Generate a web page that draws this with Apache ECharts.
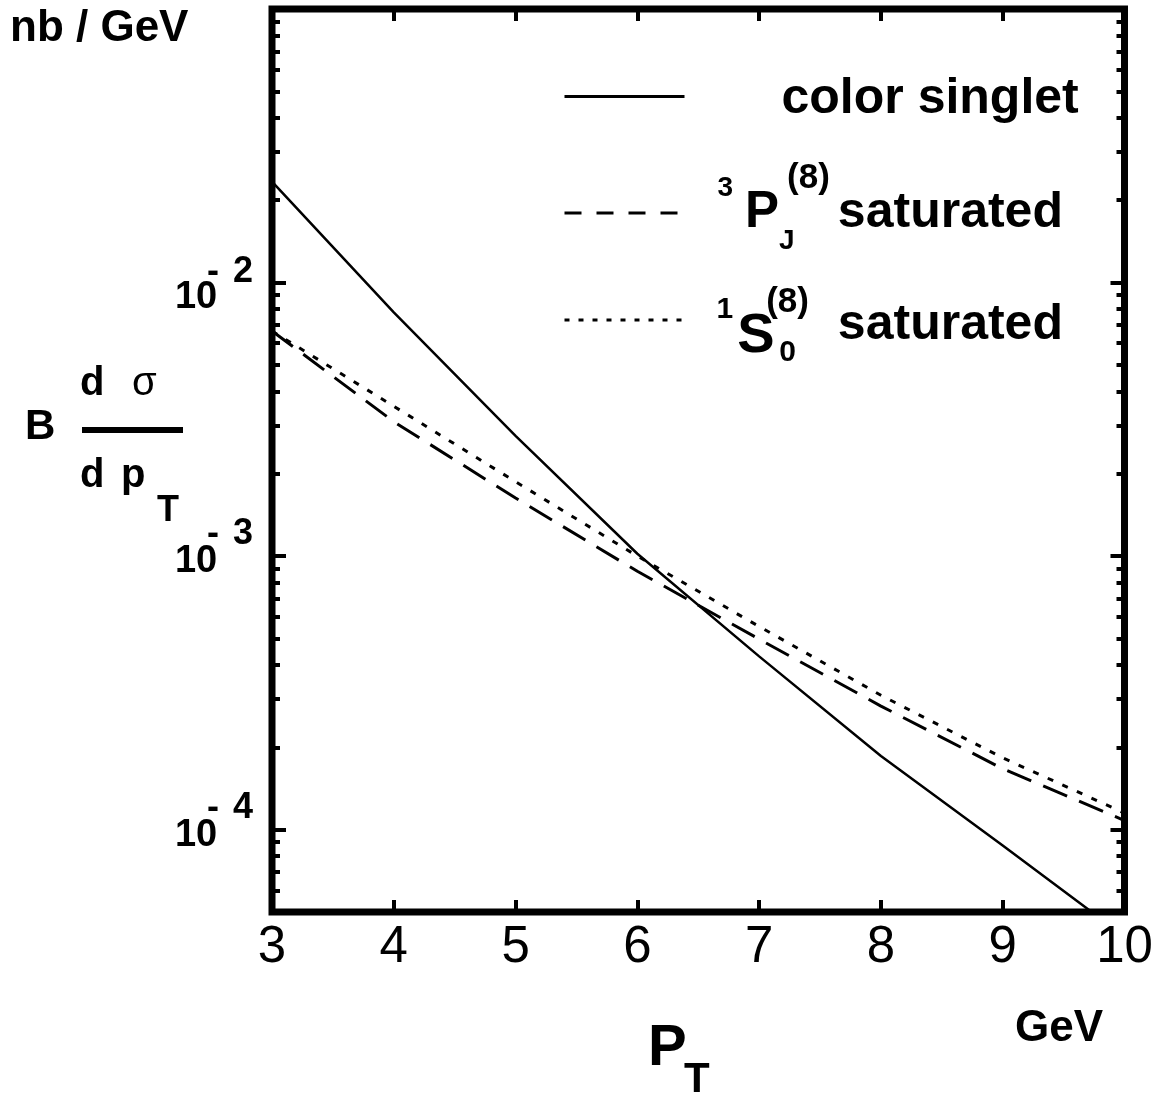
<!DOCTYPE html>
<html>
<head>
<meta charset="utf-8">
<script src="https://cdn.jsdelivr.net/npm/echarts@6/dist/echarts.min.js"></script>
<style>
  html, body { margin: 0; padding: 0; background: #fff; }
  #chart { width: 1161px; height: 1099px; }
</style>
</head>
<body>
<div id="chart"></div>
<script>
// p_T (GeV)
const ptValues = [3, 4, 5, 6, 7, 8, 9, 10];
// B dsigma/dpT (nb/GeV)
const colorSinglet = [0.0234, 0.00778, 0.00275, 0.00102, 0.00043, 0.000186, 0.0000875, 0.0000407];
const p3Saturated = [0.00665, 0.0031, 0.00163, 0.00088, 0.000497, 0.000283, 0.000167, 0.000108];
const s1Saturated = [0.00665, 0.00353, 0.00187, 0.00100, 0.000553, 0.00031, 0.000183, 0.000115];

// axis ticks
const xTicks = [3, 4, 5, 6, 7, 8, 9, 10];
const yLabelValues = [1e-4, 1e-3, 1e-2];
const yMajorTicks = [1e-4, 1e-3, 1e-2, 1e-1];
const yMinorTicks = [
  6e-5, 7e-5, 8e-5, 9e-5,
  2e-4, 3e-4, 4e-4, 5e-4, 6e-4, 7e-4, 8e-4, 9e-4,
  2e-3, 3e-3, 4e-3, 5e-3, 6e-3, 7e-3, 8e-3, 9e-3,
  2e-2, 3e-2, 4e-2, 5e-2, 6e-2, 7e-2, 8e-2, 9e-2
];

const FONT = "'Liberation Sans', Arial, sans-serif";
const chart = echarts.init(document.getElementById('chart'));

const pairs = ys => ptValues.map((x, i) => [x, ys[i]]);

// bold black rich-text token
const tok = (size, extra) => Object.assign({ fontSize: size, fontWeight: 'bold', color: '#000', align: 'left' }, extra);

// y label like 10^-3 : superscript minus sits over the 0
const yLabelRich = {
  b: tok(38, { width: 32, padding: [11, 0, 0, 0] }),
  m: tok(36, { padding: [0, 14, 44, 0] }),
  n: tok(36, { padding: [0, 0, 44, 0] }),
  b2: tok(38, { width: 32, padding: [29, 0, 0, 0] }),
  m2: tok(36, { padding: [0, 14, 20, 0] }),
  n2: tok(36, { padding: [0, 0, 20, 0] })
};

const xAxisBase = {
  type: 'value', min: 3, max: 10, interval: 1,
  axisLine: { show: false },
  splitLine: { show: false },
  axisTick: { inside: true, length: 12, lineStyle: { color: '#000', width: 4 } }
};

const yAxisBase = {
  type: 'log', logBase: 10, min: 5e-5, max: 0.1,
  axisLine: { show: false },
  splitLine: { show: false },
  minorTick: { show: false }
};

const legendBase = {
  left: 563, padding: 0, selectedMode: false,
  itemWidth: 120, itemHeight: 14,
  itemStyle: { opacity: 0 }
};

const option = {
  animation: false,
  backgroundColor: '#fff',
  textStyle: { fontFamily: FONT, color: '#000' },
  grid: {
    left: 272, top: 9, right: 36.5, bottom: 187,
    show: true, borderColor: '#000', borderWidth: 7, backgroundColor: 'transparent'
  },
  xAxis: [
    Object.assign({}, xAxisBase, {
      position: 'bottom',
      axisLabel: { margin: 10, fontSize: 51, color: '#000', fontFamily: FONT,
        customValues: xTicks }
    }),
    Object.assign({}, xAxisBase, {
      position: 'top',
      axisLabel: { show: false }
    })
  ],
  yAxis: [
    Object.assign({}, yAxisBase, {
      position: 'left',
      axisTick: { inside: true, length: 14, lineStyle: { color: '#000', width: 4 },
        customValues: yMajorTicks },
      axisLabel: {
        margin: 19, color: '#000', fontFamily: FONT, lineHeight: 60,
        customValues: yLabelValues,
        formatter: v => {
          const e = Math.round(Math.log10(v));
          const s = e === -2 ? '2' : '';
          return '{b' + s + '|10}{m' + s + '|-}{n' + s + '|' + Math.abs(e) + '}';
        },
        rich: yLabelRich
      }
    }),
    Object.assign({}, yAxisBase, {
      position: 'left',
      axisTick: { inside: true, length: 8, lineStyle: { color: '#000', width: 4 },
        customValues: yMinorTicks },
      axisLabel: { show: false }
    }),
    Object.assign({}, yAxisBase, {
      position: 'right',
      axisTick: { inside: true, length: 14, lineStyle: { color: '#000', width: 4 },
        customValues: yMajorTicks },
      axisLabel: { show: false }
    }),
    Object.assign({}, yAxisBase, {
      position: 'right',
      axisTick: { inside: true, length: 8, lineStyle: { color: '#000', width: 4 },
        customValues: yMinorTicks },
      axisLabel: { show: false }
    })
  ],
  legend: [
    Object.assign({}, legendBase, {
      data: ['color singlet'], top: 69,
      lineStyle: { width: 3 },
      formatter: () => '{t|color singlet}',
      textStyle: { rich: {
        t: tok(50, { lineHeight: 60, padding: [5, 0, 0, 92] })
      } }
    }),
    Object.assign({}, legendBase, {
      data: ['3PJ saturated'], top: 161,
      lineStyle: { type: [17, 15], width: 3 },
      formatter: () => '{a|3}{p|P}{j|J}{e|(8)}{t|saturated}',
      textStyle: { rich: {
        a: tok(28, { lineHeight: 60, padding: [0, 0, 50, 28] }),
        p: tok(51, { lineHeight: 60, padding: [0, 0, 0, 12] }),
        j: tok(28, { lineHeight: 60, width: 0, padding: [56, 0, 0, 0] }),
        e: tok(35, { lineHeight: 60, padding: [0, 0, 69, 8] }),
        t: tok(50, { lineHeight: 60, padding: [0, 0, 0, 8] })
      } }
    }),
    Object.assign({}, legendBase, {
      data: ['1S0 saturated'], top: 272,
      lineStyle: { type: [5, 9], width: 3 },
      formatter: () => '{a|1}{s|S}{e|(8)}{z|0}{t|saturated}',
      textStyle: { rich: {
        a: tok(30, { lineHeight: 60, padding: [0, 0, 20, 27] }),
        s: tok(56, { lineHeight: 60, width: 29, padding: [34, 0, 0, 4] }),
        e: tok(35, { lineHeight: 60, width: 0, padding: [0, 0, 36, 0] }),
        z: tok(30, { lineHeight: 60, padding: [66, 0, 0, 13] }),
        t: tok(50, { lineHeight: 60, padding: [10, 0, 0, 42] })
      } }
    })
  ],
  series: [
    {
      name: 'color singlet', type: 'line', data: pairs(colorSinglet),
      showSymbol: false, symbol: 'none', color: '#000',
      lineStyle: { color: '#000', width: 2.5, type: 'solid' }
    },
    {
      name: '3PJ saturated', type: 'line', data: pairs(p3Saturated),
      showSymbol: false, symbol: 'none', color: '#000',
      lineStyle: { color: '#000', width: 3, type: [26, 13] }
    },
    {
      name: '1S0 saturated', type: 'line', data: pairs(s1Saturated),
      showSymbol: false, symbol: 'none', color: '#000',
      lineStyle: { color: '#000', width: 3, type: [6, 10] }
    }
  ],
  graphic: [
    { type: 'text', style: { x: 10, y: 29, text: 'nb / GeV', font: 'bold 44px ' + FONT, fill: '#000', verticalAlign: 'middle' } },
    { type: 'text', style: { x: 25, y: 427, text: 'B', font: 'bold 42px ' + FONT, fill: '#000', verticalAlign: 'middle' } },
    { type: 'text', style: { x: 80, y: 384, text: 'd', font: 'bold 40px ' + FONT, fill: '#000', verticalAlign: 'middle' } },
    { type: 'text', style: { x: 132, y: 384, text: 'σ', font: '40px ' + FONT, fill: '#000', verticalAlign: 'middle' } },
    { type: 'rect', shape: { x: 82, y: 427, width: 101, height: 6 }, style: { fill: '#000' } },
    { type: 'text', style: { x: 80, y: 476, text: 'd', font: 'bold 40px ' + FONT, fill: '#000', verticalAlign: 'middle' } },
    { type: 'text', style: { x: 121, y: 476, text: 'p', font: 'bold 40px ' + FONT, fill: '#000', verticalAlign: 'middle' } },
    { type: 'text', style: { x: 157, y: 511, text: 'T', font: 'bold 36px ' + FONT, fill: '#000', verticalAlign: 'middle' } },
    { type: 'text', style: { x: 648, y: 1049, text: 'P', font: 'bold 58px ' + FONT, fill: '#000', verticalAlign: 'middle' } },
    { type: 'text', style: { x: 684, y: 1080, text: 'T', font: 'bold 42px ' + FONT, fill: '#000', verticalAlign: 'middle' } },
    { type: 'text', style: { x: 1015, y: 1029, text: 'GeV', font: 'bold 44px ' + FONT, fill: '#000', verticalAlign: 'middle' } }
  ]
};

chart.setOption(option);
</script>
</body>
</html>
